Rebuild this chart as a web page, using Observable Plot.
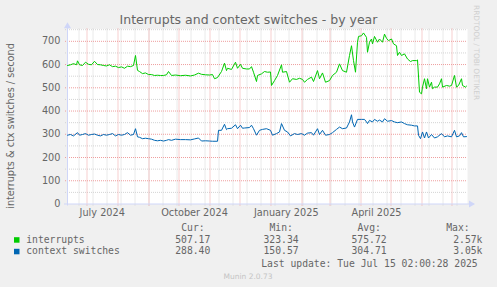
<!DOCTYPE html>
<html><head><meta charset="utf-8">
<script src="https://cdn.jsdelivr.net/npm/d3@7"></script>
<script src="https://cdn.jsdelivr.net/npm/@observablehq/plot@0.6"></script>
<style>
html,body{margin:0;padding:0;background:#f0f0f0;}
#chart{position:relative;width:497px;height:287px;overflow:hidden;}
</style></head>
<body><div id="chart"></div>
<script>
// ---- data (day offsets from 2024-06-11 12:00 UTC) ----
const interruptsDays = [0,3,6,9,10,12,15,18,21,24,27,30,33,36,39,42,45,48,51,54,57,60,63,66,68,70,72,75,78,81,84,87,90,93,96,99,101,104,108,113,118,123,127,131,134,138,142,145,147,150,154,157,159,160,164,168,170,173,175,179,182,184,186,189,190,194,197,200,203,204,207,210,214,215,219,222,225,229,232,235,237,240,244,246,250,252,255,258,262,265,269,272,275,279,282,284,286,288,290,291,294,296,299,300,302,304,305,307,310,312,315,317,319,321,324,326,329,330,332,334,337,340,343,345,349,350,352,354,355,357,359,360,362,364,365,367,370,372,374,375,379,382,384,387,389,391,394,395,398,399];
const interruptsVals = [596,599,604,599,616,599,596,610,601,599,614,600,599,596,594,599,591,593,587,590,584,593,591,596,639,575,570,561,564,557,557,553,554,553,553,556,570,553,555,552,554,551,555,563,558,556,555,557,539,544,570,606,574,584,579,610,584,601,584,581,581,591,567,527,553,560,570,567,568,510,531,553,599,567,570,524,539,536,541,536,524,536,546,527,574,539,564,524,531,553,567,603,574,567,639,681,617,567,696,721,724,736,717,653,696,710,689,721,696,710,696,731,713,703,710,689,681,639,653,639,646,624,613,617,617,620,481,474,503,539,496,539,503,524,496,503,503,517,539,503,510,507,510,553,503,510,539,510,503,507];
const ctxDays = [0,3,6,10,12,15,18,21,24,27,30,33,36,39,42,45,48,51,54,57,60,63,66,68,70,72,75,78,81,84,87,90,93,96,99,101,104,108,113,118,123,127,131,134,138,142,145,150,151,154,157,159,160,164,168,170,173,175,177,182,184,186,189,192,195,199,203,205,209,212,214,217,220,223,227,230,234,237,240,244,246,250,252,255,258,262,265,269,272,275,279,282,284,285,287,290,294,297,299,300,302,305,307,310,312,315,317,320,324,327,330,334,337,340,344,347,350,351,353,355,357,359,361,364,367,370,374,377,380,384,387,389,392,394,396,399];
const ctxVals = [296,299,293,307,296,299,303,296,299,301,296,293,299,296,299,303,293,299,296,299,307,296,299,324,289,287,281,283,281,279,274,272,274,271,274,277,274,279,277,277,276,280,284,271,272,271,270,270,317,317,343,320,324,326,341,324,339,326,327,329,339,324,296,317,321,324,317,296,303,310,346,317,310,293,303,299,303,296,305,307,296,324,299,317,296,299,307,321,331,324,327,353,384,353,331,364,364,364,353,346,360,353,364,356,361,353,367,356,359,353,350,353,346,341,339,336,336,296,281,310,284,310,284,299,284,289,303,289,293,289,317,289,293,307,289,290];
const seriesNames = ["interrupts","context switches"];
const seriesColors = ["#00cc00","#0066b3"];
const legendCur = ["507.17","288.40"];
const legendMin = ["323.34","150.57"];
const legendAvg = ["575.72","304.71"];
const legendMax = ["2.57k","3.05k"];
const yTicks = [0,100,200,300,400,500,600,700];
const yMinor = [50,150,250,350,450,550,650,750];
const xTickLabels = ["July 2024","October 2024","January 2025","April 2025"];
const xTickDates = ["2024-07-16T06:00Z","2024-10-16T12:00Z","2025-01-16T06:00Z","2025-04-16T12:00Z"].map(s=>new Date(s));

const DAY = 864e5;
const start = new Date(Date.UTC(2024,5,11,12));
const end = new Date(Date.UTC(2025,6,16,12));
const mk = (days, vals, name) => days.map((d,i)=>({t:new Date(+start + d*DAY), v:vals[i], s:name}));
const data = [...mk(interruptsDays, interruptsVals, seriesNames[0]), ...mk(ctxDays, ctxVals, seriesNames[1])];
const months = d3.utcMonth.range(start, end);
const minorX = d3.range(+new Date(Date.UTC(2024,5,23)), +end, 14*DAY).map(t=>new Date(t));
const YMAX = 753;
const axisC = "#CFD6F8";

const svg = Plot.plot({
  width: 497, height: 287,
  marginLeft: 67, marginRight: 30, marginTop: 28.5, marginBottom: 83.5,
  style: {background:"transparent", fontFamily:"DejaVu Sans", fontSize:"9.72px", color:"#666"},
  x: {type:"utc", domain:[start,end], label:null},
  y: {domain:[0,YMAX], label:null},
  color: {domain: seriesNames, range: seriesColors},
  marks: [
    Plot.frame({fill:"white", stroke:null}),
    Plot.ruleX(minorX, {stroke:"#d4d4d4", strokeDasharray:"1,1", insetBottom:-2}),
    Plot.ruleY(yMinor, {stroke:"#d4d4d4", strokeDasharray:"1,1", insetLeft:-2}),
    Plot.ruleX(months, {stroke:"#ee9e9e", strokeDasharray:"1,1", insetBottom:-2}),
    Plot.ruleY(yTicks.slice(1), {stroke:"#ee9e9e", strokeDasharray:"1,1", insetLeft:-2}),
    Plot.ruleY([0], {stroke:axisC, insetLeft:-3, insetRight:-2}),
    Plot.ruleX([start], {stroke:axisC, insetTop:-2, insetBottom:-2}),
    Plot.dot([0], {x:()=>start, y:()=>YMAX+12, symbol:"triangle", r:2.6, fill:axisC, stroke:null}),
    Plot.dot([0], {x:()=>new Date(+end+3.5*DAY), y:()=>0, symbol:"triangle", r:2.6, rotate:90, fill:axisC, stroke:null}),
    Plot.line(data, {x:"t", y:"v", z:"s", stroke:"s", strokeWidth:1}),
    Plot.axisY({ticks: yTicks, tickSize:0, tickPadding:7, label:null}),
    Plot.axisX({ticks: xTickDates, tickFormat:(d)=>xTickLabels[xTickDates.findIndex(x=>+x===+d)], tickSize:0, tickPadding:5.5, label:null})
  ]
});
svg.style.position="absolute"; svg.style.left="0"; svg.style.top="0";
document.getElementById("chart").appendChild(svg);

const s = d3.select(svg);
const font = "DejaVu Sans", mono = "DejaVu Sans Mono";
const txt = (x,y,t,opts={}) => s.append("text").attr("x",x).attr("y",y).text(t)
  .attr("font-family",opts.f||mono).attr("font-size",opts.size||"9.72px")
  .attr("fill",opts.fill||"#666").attr("text-anchor",opts.anchor||"start")
  .style("white-space","pre");
// title
txt(248.5, 24, "Interrupts and context switches - by year", {f:font, size:"12.5px", anchor:"middle"});
// y title
s.append("text").attr("transform","translate(14,126) rotate(-90)").attr("text-anchor","middle")
  .attr("font-family",font).attr("font-size","9.72px").attr("fill","#666")
  .text("interrupts & ctx switches / second");
// watermark
s.append("text").attr("transform","translate(473.5,5) rotate(90)").attr("text-anchor","start")
  .attr("font-family",font).attr("font-size","7.4px").attr("fill","#cfcfcf")
  .text("RRDTOOL / TOBI OETIKER");
// legend
txt(181.2, 230.7, "Cur:"); txt(269.5, 230.7, "Min:"); txt(357.5, 230.7, "Avg:"); txt(446.2, 230.7, "Max:");
const rowsY = [242.7, 254.3];
seriesNames.forEach((n,i)=>{
  s.append("rect").attr("x",14).attr("y",rowsY[i]-5.5).attr("width",5.5).attr("height",5.5).attr("fill",seriesColors[i]);
  txt(26.2, rowsY[i], n);
  txt(175.2, rowsY[i], legendCur[i]);
  txt(263.5, rowsY[i], legendMin[i]);
  txt(351.5, rowsY[i], legendAvg[i]);
  txt(453.2, rowsY[i], legendMax[i]);
});
txt(261.2, 266.7, "Last update: Tue Jul 15 02:00:28 2025");
txt(248, 279, "Munin 2.0.73", {f:font, size:"7.5px", fill:"#c4c4c4", anchor:"middle"});
</script></body></html>
